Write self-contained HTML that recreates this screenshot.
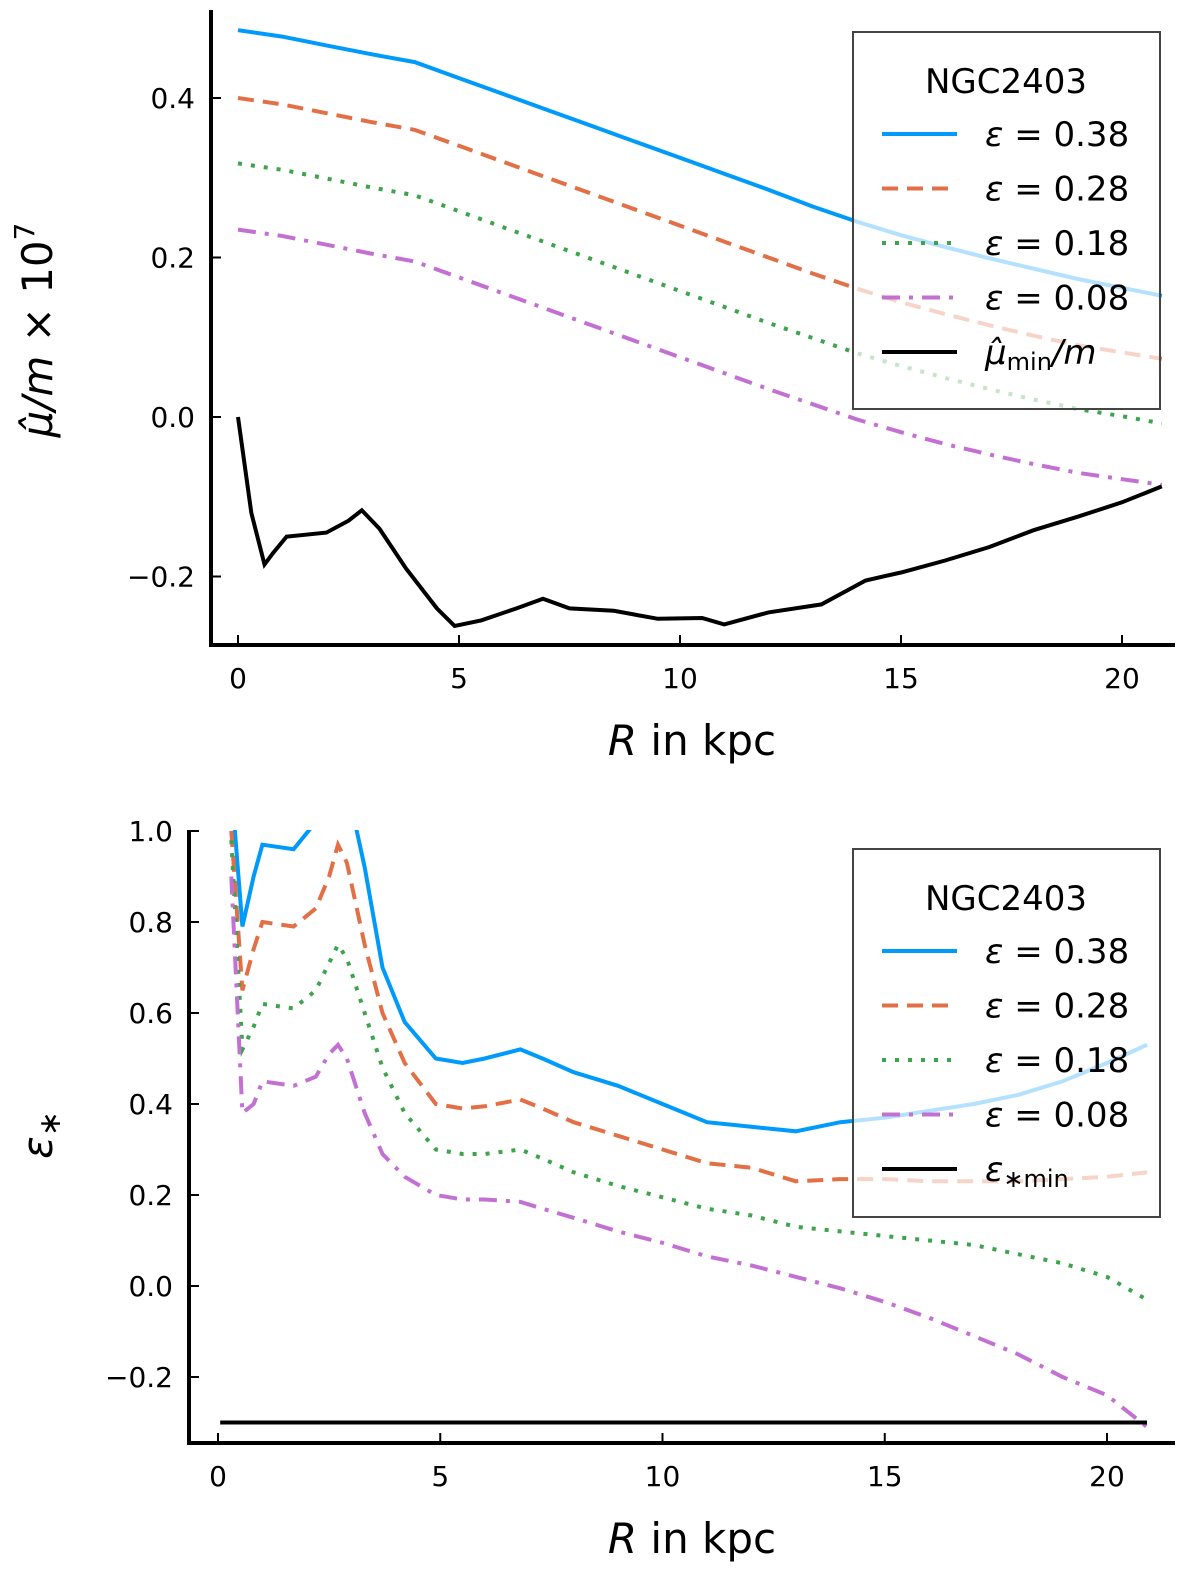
<!DOCTYPE html>
<html><head><meta charset="utf-8"><style>
body{margin:0;background:#fff}
svg{display:block;font-family:"DejaVu Sans","Liberation Sans",sans-serif}
</style></head><body>
<svg id="fig" width="1200" height="1577" viewBox="0 0 1200 1577" xmlns="http://www.w3.org/2000/svg"></svg>
<script>
// ---- top panel data ----
const topR = [0,1,2,3,4,5,6,7,8,9,10,11,12,13,14,15,16,17,18,19,20,20.9];
const topBlue   = [0.485,0.477,0.466,0.455,0.445,0.425,0.405,0.385,0.365,0.345,0.325,0.305,0.285,0.264,0.245,0.228,0.213,0.199,0.186,0.173,0.162,0.152];
const topOrange = [0.400,0.392,0.381,0.370,0.360,0.340,0.320,0.300,0.280,0.260,0.240,0.220,0.200,0.180,0.161,0.144,0.129,0.115,0.102,0.090,0.081,0.073];
const topGreen  = [0.318,0.310,0.299,0.288,0.278,0.258,0.238,0.218,0.198,0.178,0.158,0.138,0.118,0.099,0.080,0.064,0.049,0.035,0.022,0.010,0.001,-0.008];
const topPurple = [0.235,0.227,0.216,0.205,0.195,0.175,0.155,0.135,0.115,0.095,0.075,0.055,0.035,0.016,-0.003,-0.019,-0.034,-0.047,-0.059,-0.070,-0.078,-0.085];
const topMinR = [0,0.3,0.6,0.8,1.1,2,2.5,2.8,3.2,3.8,4.5,4.9,5.5,6.3,6.9,7.5,8.5,9.5,10.5,11,12,13.2,14.2,15,16,17,18,19,20,20.9];
const topMin  = [0,-0.12,-0.185,-0.17,-0.15,-0.145,-0.13,-0.117,-0.14,-0.19,-0.24,-0.262,-0.255,-0.24,-0.228,-0.24,-0.243,-0.253,-0.252,-0.26,-0.245,-0.235,-0.205,-0.195,-0.18,-0.163,-0.142,-0.125,-0.107,-0.087];
const topYTicks = [-0.2,0.0,0.2,0.4];
const topYLabels = ["\u22120.2","0.0","0.2","0.4"];
const xTicks = [0,5,10,15,20];
const xLabels = ["0","5","10","15","20"];
// ---- bottom panel data ----
const botR = [0.3,0.55,0.8,1.0,1.7,2.2,2.5,2.7,2.9,3.3,3.7,4.2,4.9,5.5,6,6.8,7.3,8,9,10,11,12,13,14,15,16,17,18,19,20,20.9];
const botBlue   = [1.1,0.79,0.9,0.97,0.96,1.02,1.1,1.15,1.1,0.92,0.7,0.58,0.5,0.49,0.5,0.52,0.5,0.47,0.44,0.40,0.36,0.35,0.34,0.36,0.37,0.385,0.40,0.42,0.45,0.49,0.53];
const botOrange = [1.0,0.65,0.74,0.80,0.79,0.83,0.90,0.97,0.93,0.75,0.60,0.49,0.40,0.39,0.395,0.41,0.39,0.36,0.33,0.30,0.27,0.26,0.23,0.235,0.235,0.23,0.23,0.23,0.235,0.24,0.25];
const botGreen  = [0.98,0.52,0.57,0.62,0.61,0.65,0.71,0.75,0.72,0.60,0.48,0.38,0.30,0.29,0.29,0.30,0.28,0.25,0.22,0.195,0.17,0.155,0.13,0.12,0.11,0.10,0.09,0.07,0.05,0.02,-0.03];
const botPurple = [0.9,0.38,0.40,0.45,0.44,0.46,0.51,0.53,0.50,0.38,0.29,0.24,0.20,0.19,0.19,0.185,0.17,0.15,0.12,0.095,0.065,0.045,0.02,-0.005,-0.035,-0.07,-0.11,-0.15,-0.20,-0.24,-0.31];
const botMinR = [0.05,20.9];
const botMin  = [-0.30,-0.30];
const botYTicks = [-0.2,0,0.2,0.4,0.6,0.8,1.0];
const botYLabels = ["\u22120.2","0.0","0.2","0.4","0.6","0.8","1.0"];
const legendLabels = ["0.38","0.28","0.18","0.08"];

const NS="http://www.w3.org/2000/svg";
const svg=document.getElementById('fig');
function mk(tag,attrs,parent){const e=document.createElementNS(NS,tag);for(const k in attrs)e.setAttribute(k,attrs[k]);(parent||svg).appendChild(e);return e;}
const colors=["#009AFA","#E26F46","#3DA44D","#C271D2"];
const dashes=["none","16 9","4 9","18 9 4 9"];

function panel(o){
  const g=mk('g',{});
  
  
  const X=v=>o.x0+v*o.xs, Y=v=>o.y0-v*o.ys;
  const clipId=o.name+'-clip';
  const cp=mk('clipPath',{id:clipId},g);
  mk('rect',{x:o.axX,y:o.top,width:1200-o.axX,height:o.axY-o.top},cp);
  o.s.forEach((vals,i)=>{
    const d=o.r.map((r,j)=>(j?'L':'M')+X(r).toFixed(1)+' '+Y(vals[j]).toFixed(1)).join(' ');
    const p=mk('path',{d:d,fill:'none',stroke:colors[i],'stroke-width':4,'stroke-dasharray':dashes[i],'clip-path':'url(#'+clipId+')'},g);
    
    
  });
  const dm=o.minR.map((r,j)=>(j?'L':'M')+X(r).toFixed(1)+' '+Y(o.min[j]).toFixed(1)).join(' ');
  const pm=mk('path',{d:dm,fill:'none',stroke:'#000','stroke-width':4,'clip-path':'url(#'+clipId+')'},g);
  
  
  const ya=mk('line',{x1:o.axX,y1:o.top,x2:o.axX,y2:o.axY+2,stroke:'#000','stroke-width':4},g);
  
  
  const xa=mk('line',{x1:o.axX-2,y1:o.axY,x2:1175,y2:o.axY,stroke:'#000','stroke-width':4},g);
  
  
  o.yt.forEach((v,i)=>{
    mk('line',{x1:o.axX,y1:Y(v),x2:o.axX+10,y2:Y(v),stroke:'#000','stroke-width':2},g);
    const t=mk('text',{x:o.axX-16,y:Y(v)+10,'text-anchor':'end','font-size':28},g);
    t.textContent=o.yl[i];
    
    
  });
  xTicks.forEach((v,i)=>{
    mk('line',{x1:X(v),y1:o.axY,x2:X(v),y2:o.axY-10,stroke:'#000','stroke-width':2},g);
    const t=mk('text',{x:X(v),y:o.axY+43,'text-anchor':'middle','font-size':28},g);
    t.textContent=xLabels[i];
    
    
  });
  const xt=mk('text',{x:692,y:o.axY+110,'text-anchor':'middle','font-size':42},g);
  xt.innerHTML='<tspan font-style="italic">R</tspan> in kpc';
  
  
  const lg=mk('g',{},g);
  
  
  mk('rect',{x:853,y:o.lt,width:307,height:o.lh,fill:'rgba(255,255,255,0.7)',stroke:'#444','stroke-width':2},lg);
  const tt=mk('text',{x:1006,y:o.lt+61,'text-anchor':'middle','font-size':34},lg);
  tt.textContent='NGC2403';
  for(let i=0;i<5;i++){
    const yy=o.lt+102+i*54.5;
    const e=mk('g',{},lg);
    
    
    mk('line',{x1:882,y1:yy,x2:957,y2:yy,stroke:i<4?colors[i]:'#000','stroke-width':4,'stroke-dasharray':i<4?dashes[i]:'none'},e);
    const t=mk('text',{x:985,y:yy+12,'font-size':34},e);
    if(i<4){t.innerHTML='<tspan font-style="italic">\u03b5</tspan> = '+legendLabels[i];}
    else t.innerHTML=o.minLabel;
  }
  const yl=mk('text',{transform:'translate('+o.ylx+','+o.yly+') rotate(-90)','text-anchor':'middle','font-size':42},g);
  yl.innerHTML=o.ylabel;
  
  
}
panel({name:'top-panel',x0:238,xs:44.2,y0:417,ys:797.5,axX:211,axY:645,top:10,
  r:topR,s:[topBlue,topOrange,topGreen,topPurple],minR:topMinR,min:topMin,yt:topYTicks,yl:topYLabels,
  lt:32,lh:377,minLabel:'<tspan font-style="italic">\u03bc\u0302</tspan><tspan font-size="24" dy="6">min</tspan><tspan dy="-6" font-style="italic">/m</tspan>',
  ylx:52,yly:330,ylabel:'<tspan font-style="italic">\u03bc\u0302/m</tspan> \u00d7 10<tspan font-size="28" dy="-18">7</tspan>'});
panel({name:'bottom-panel',x0:218,xs:44.45,y0:1286,ys:455,axX:189,axY:1443,top:830,
  r:botR,s:[botBlue,botOrange,botGreen,botPurple],minR:botMinR,min:botMin,yt:botYTicks,yl:botYLabels,
  lt:849,lh:368,minLabel:'<tspan font-style="italic">\u03b5</tspan><tspan font-size="24" dy="6">\u2217min</tspan>',
  ylx:52,yly:1135,ylabel:'<tspan font-style="italic">\u03b5</tspan><tspan font-size="30" dy="8">\u2217</tspan>'});
</script>
</body></html>
